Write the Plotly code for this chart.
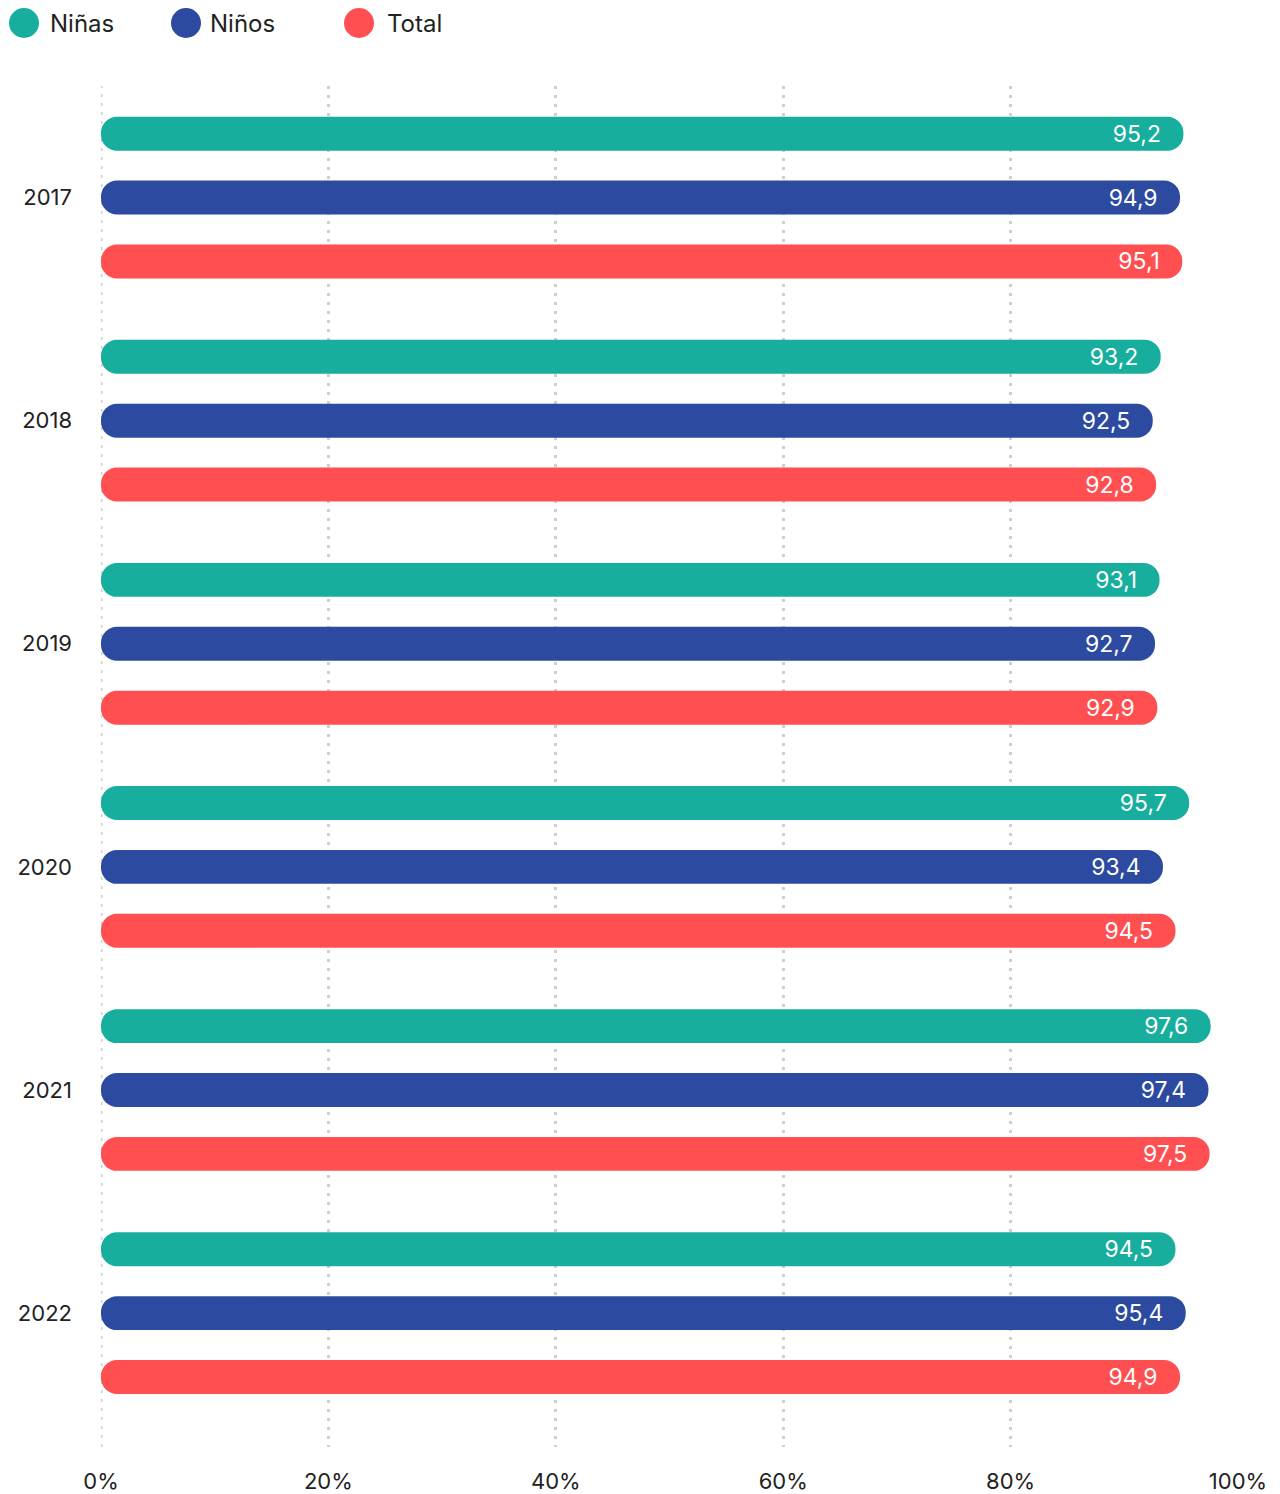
import plotly.graph_objects as go

years = ["2017", "2018", "2019", "2020", "2021", "2022"]
ninas = [95.2, 93.2, 93.1, 95.7, 97.6, 94.5]
ninos = [94.9, 92.5, 92.7, 93.4, 97.4, 95.4]
total = [95.1, 92.8, 92.9, 94.5, 97.5, 94.9]

series_names = ["Niñas", "Niños", "Total"]
series_values = [ninas, ninos, total]
series_colors = ["#17ae9e", "#2b4aa0", "#ff4f51"]

x_ticks = [0, 20, 40, 60, 80, 100]

FONT = "Inter, Lato, sans-serif"
TXT = "#222222"

# page has an 8px body margin; target plot area in page pixels:
PAGE_OFF = 8
PL, PR, PT, PB = 101, 1238, 86, 1447   # plot area edges in page px
W, H = 1280 - 2 * PAGE_OFF, 1494 - PAGE_OFF
ML = PL - PAGE_OFF
MT = PT - PAGE_OFF
MR = PAGE_OFF + W - PR
MB = PAGE_OFF + H - PB
PW, PH = PR - PL, PB - PT

fig = go.Figure()
pad = "\u00a0"
for name, vals, col in zip(series_names, series_values, series_colors):
    fig.add_trace(go.Bar(
        y=years, x=vals, base=[0] * len(vals), orientation="h",
        marker=dict(color=col, line=dict(width=0)),
        name=name, showlegend=False,
        texttemplate="%{x:.1f}" + pad, textposition="inside",
        insidetextanchor="end", textangle=0,
        textfont=dict(color="white", size=23, family=FONT),
        hovertemplate=name + ": %{x:.1f}<extra></extra>",
    ))

# legend drawn as circles + labels (page pixel positions)
legend_items = [(24, 50), (186, 210), (359, 387)]
LEG_Y = 23
for (cx, tx), name, col in zip(legend_items, series_names, series_colors):
    fig.add_shape(type="circle", xref="paper", yref="paper",
                  xsizemode="pixel", ysizemode="pixel",
                  xanchor=(cx - PL) / PW, yanchor=(PB - LEG_Y) / PH,
                  x0=-15, x1=15, y0=-15, y1=15,
                  fillcolor=col, line=dict(width=0))
    fig.add_annotation(x=(tx - PL) / PW, y=(PB - LEG_Y) / PH, xref="paper", yref="paper",
                       text=name, showarrow=False, xanchor="left", yanchor="middle",
                       xshift=-2, font=dict(size=24, color=TXT, family=FONT))

fig.update_layout(
    width=W, height=H,
    margin=dict(l=ML, r=MR, t=MT, b=MB, autoexpand=False),
    paper_bgcolor="white", plot_bgcolor="white",
    barmode="group", bargap=0.141, bargroupgap=0.469,
    barcornerradius="50%",
    separators=",.",
    showlegend=False,
    font=dict(family=FONT, color=TXT),
)
fig.update_xaxes(
    range=[0, 100], tickvals=x_ticks, ticktext=[f"{t}%" for t in x_ticks],
    showgrid=True, gridcolor="#cfcfcf", gridwidth=3, griddash="3px,6px",
    zeroline=False, showline=False, ticks="",
    tickfont=dict(size=22, color=TXT, family=FONT), ticklabelstandoff=19,
    fixedrange=True,
)
fig.update_yaxes(
    type="category", categoryorder="array", categoryarray=years,
    range=[5.6, -0.5], showgrid=False, zeroline=False, showline=False, ticks="",
    tickfont=dict(size=22, color=TXT, family=FONT), ticklabelstandoff=28,
    fixedrange=True,
)
fig.add_vline(x=0, line=dict(color="#cfcfcf", width=3, dash="3px,6px"), layer="below")

fig.write_html("out.html")
